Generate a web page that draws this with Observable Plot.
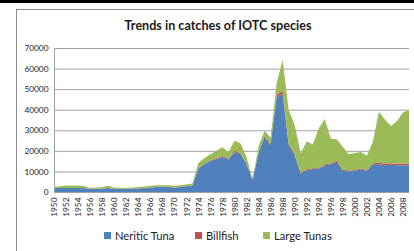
<!DOCTYPE html>
<html>
<head>
<meta charset="utf-8">
<script src="https://cdn.jsdelivr.net/npm/d3@7"></script>
<script src="https://cdn.jsdelivr.net/npm/@observablehq/plot@0.6"></script>
<style>
  html, body { margin: 0; padding: 0; background: #fff; }
  #wrap { position: relative; width: 414px; height: 251px; overflow: hidden; background: #fff; font-family: Lato, "Open Sans", sans-serif; }
  #bar { position: absolute; left: 0; top: 0; width: 414px; height: 3px; background: #000; }
  #frame { position: absolute; left: 16px; top: 9px; width: 420px; height: 260px; border-left: 1px solid #8e8e8e; border-top: 1px solid #8e8e8e; }
  #title { position: absolute; left: 118px; top: 18px; width: 200px; text-align: center; font-weight: bold; font-size: 12.6px; color: #1a1a1a; white-space: nowrap; }
  #chart { position: absolute; left: 0; top: 0; }
  .lg { position: absolute; top: 229px; font-size: 11.2px; color: #1a1a1a; white-space: nowrap; display: flex; align-items: center; }
  .lg span.sw { display: inline-block; width: 7px; height: 7px; margin-right: 4px; }
</style>
</head>
<body>
<div id="wrap">
  <div id="bar"></div>
  <div id="frame"></div>
  <div id="title">Trends in catches of IOTC species</div>
  <div id="chart"></div>
  <div id="legend"></div>
</div>
<script>
const years = [1950,1951,1952,1953,1954,1955,1956,1957,1958,1959,
  1960,1961,1962,1963,1964,1965,1966,1967,1968,1969,
  1970,1971,1972,1973,1974,1975,1976,1977,1978,1979,
  1980,1981,1982,1983,1984,1985,1986,1987,1988,1989,
  1990,1991,1992,1993,1994,1995,1996,1997,1998,1999,
  2000,2001,2002,2003,2004,2005,2006,2007,2008,2009];

const neriticTuna = [1800,1900,1900,1900,1900,1800,1500,1500,1600,1900,
  1500,1500,1500,1600,1700,1800,2100,2400,2400,2400,
  2100,2400,2800,3100,11400,13500,15100,16000,17100,15800,
  19500,18500,13500,6000,18700,26800,22800,46100,47800,22800,
  17900,9000,10600,11200,11200,13000,13400,14600,10200,10100,
  10200,11100,10200,13500,13500,13000,13200,13000,13000,12900];

const billfish = [100,100,100,100,100,100,100,100,100,100,
  100,100,100,100,100,100,100,100,100,100,
  100,100,100,100,300,300,300,400,400,400,
  500,500,400,200,400,500,500,1000,1400,600,
  500,400,400,400,400,500,500,700,500,400,
  400,400,400,500,700,800,800,800,900,900];

const largeTunas = [500,800,1100,1100,1100,1000,500,600,700,1000,
  600,500,500,500,600,800,800,800,800,800,
  800,800,800,900,2400,2700,3000,3600,4200,3300,
  4900,4600,3100,100,3200,2500,3200,5800,15100,16500,
  14200,9300,13700,11500,19300,22000,12000,10300,11300,7800,
  8400,8000,7000,10400,24800,21500,18100,20700,24700,26100];

const seriesNames = ["Neritic Tuna", "Billfish", "Large Tunas"];
const seriesColors = ["#4F81BD", "#C0504D", "#9BBB59"];
const yTicks = [0,10000,20000,30000,40000,50000,60000,70000];
const xTickLabels = [1950,1952,1954,1956,1958,1960,1962,1964,1966,1968,
  1970,1972,1974,1976,1978,1980,1982,1984,1986,1988,
  1990,1992,1994,1996,1998,2000,2002,2004,2006,2008];

const seriesValues = [neriticTuna, billfish, largeTunas];
const data = [];
seriesNames.forEach((name, si) => {
  years.forEach((yr, i) => data.push({year: yr, species: name, value: seriesValues[si][i]}));
});

const chart = Plot.plot({
  width: 414,
  height: 251,
  marginLeft: 54,
  marginRight: 5,
  marginTop: 48,
  marginBottom: 59,
  style: {fontFamily: "Lato, 'Open Sans', sans-serif", fontSize: "8.3px", color: "#333", background: "transparent", overflow: "visible"},
  x: {domain: [1950, 2009], label: null},
  y: {domain: [0, 70000], label: null},
  color: {domain: seriesNames, range: seriesColors},
  marks: [
    Plot.gridY(yTicks, {stroke: "#a0a0a0", strokeOpacity: 1, strokeWidth: 1}),
    Plot.areaY(data, {x: "year", y: "value", fill: "species", order: seriesNames, curve: "linear"}),
    Plot.ruleX([1950], {stroke: "#a0a0a0"}),
    Plot.ruleY([0], {stroke: "#a0a0a0"}),
    Plot.axisY(yTicks, {tickSize: 0, tickPadding: 6, tickFormat: d => String(d), fontSize: 8.3, fill: "#222"}),
    Plot.axisX(xTickLabels, {tickSize: 0, tickPadding: 5, tickRotate: -90, tickFormat: d => String(d), fontSize: 8.3, fill: "#222"})
  ]
});
document.getElementById("chart").appendChild(chart);

const legendLefts = [104, 195, 263];
const legend = document.getElementById("legend");
seriesNames.forEach((name, i) => {
  const d = document.createElement("div");
  d.className = "lg";
  d.style.left = legendLefts[i] + "px";
  d.innerHTML = `<span class="sw" style="background:${seriesColors[i]}"></span>${name}`;
  legend.appendChild(d);
});
</script>
</body>
</html>
